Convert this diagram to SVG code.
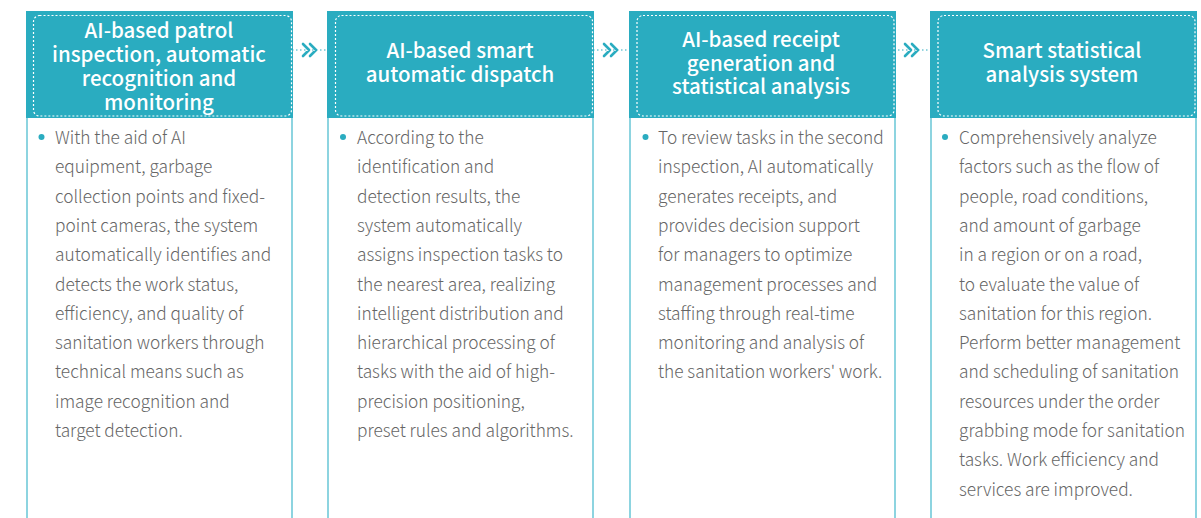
<svg xmlns="http://www.w3.org/2000/svg" width="1201" height="518" viewBox="0 0 1201 518">
<style>
.hdr{fill:#2aacc0}
.dash{fill:none;stroke:#ffffff;stroke-width:1.2;stroke-dasharray:2 2}
.side{stroke:#8dd4e0;stroke-width:2}
.title{font-family:"Noto Sans CJK SC","Source Sans Pro","Noto Sans",sans-serif;font-size:20.5px;font-weight:500;fill:#ffffff;text-anchor:middle}
.body{font-family:"Noto Sans CJK SC","Source Sans Pro","Noto Sans",sans-serif;font-size:17.3px;font-weight:300;fill:#666666}
.dot{fill:#2aacc0}
.conn{stroke:#2aacc0;stroke-width:1.2;stroke-dasharray:1.5 2.5;fill:none}
.chev{stroke:#2aacc0;stroke-width:2.6;fill:none;stroke-linecap:round;stroke-linejoin:round}
</style>
<rect width="1201" height="518" fill="#ffffff"/>
<g id="connectors">
<line class="conn" x1="292" y1="50" x2="328" y2="50"/>
<path class="chev" d="M303,44 L309,50 L303,56 M310,44 L316,50 L310,56"/>
<line class="conn" x1="593" y1="50" x2="629" y2="50"/>
<path class="chev" d="M604,44 L610,50 L604,56 M611,44 L617,50 L611,56"/>
<line class="conn" x1="894" y1="50" x2="930" y2="50"/>
<path class="chev" d="M905,44 L911,50 L905,56 M912,44 L918,50 L912,56"/>
</g>
<g id="node1">
<line class="side" x1="27" y1="118" x2="27" y2="518"/>
<line class="side" x1="292" y1="118" x2="292" y2="518"/>
<rect class="hdr" x="26" y="11" width="267" height="107"/>
<rect class="dash" x="33.5" y="15.5" width="258" height="100.5" rx="6"/>
<text class="title" x="159" y="38">AI-based patrol</text>
<text class="title" x="159" y="62">inspection, automatic</text>
<text class="title" x="159" y="86">recognition and</text>
<text class="title" x="159" y="110">monitoring</text>
<circle class="dot" cx="41.5" cy="137" r="3"/>
<text class="body" x="55" y="144">With the aid of AI</text>
<text class="body" x="55" y="173.3">equipment, garbage</text>
<text class="body" x="55" y="202.6">collection points and fixed-</text>
<text class="body" x="55" y="231.9">point cameras, the system</text>
<text class="body" x="55" y="261.2">automatically identifies and</text>
<text class="body" x="55" y="290.5">detects the work status,</text>
<text class="body" x="55" y="319.8">efficiency, and quality of</text>
<text class="body" x="55" y="349.1">sanitation workers through</text>
<text class="body" x="55" y="378.4">technical means such as</text>
<text class="body" x="55" y="407.7">image recognition and</text>
<text class="body" x="55" y="437">target detection.</text>
</g>
<g id="node2">
<line class="side" x1="328" y1="118" x2="328" y2="518"/>
<line class="side" x1="593" y1="118" x2="593" y2="518"/>
<rect class="hdr" x="327" y="11" width="267" height="107"/>
<rect class="dash" x="335.5" y="15.5" width="257" height="100.5" rx="6"/>
<text class="title" x="460" y="58">AI-based smart</text>
<text class="title" x="460" y="82">automatic dispatch</text>
<circle class="dot" cx="343" cy="137" r="3"/>
<text class="body" x="357" y="144">According to the</text>
<text class="body" x="357" y="173.3">identification and</text>
<text class="body" x="357" y="202.6">detection results, the</text>
<text class="body" x="357" y="231.9">system automatically</text>
<text class="body" x="357" y="261.2">assigns inspection tasks to</text>
<text class="body" x="357" y="290.5">the nearest area, realizing</text>
<text class="body" x="357" y="319.8">intelligent distribution and</text>
<text class="body" x="357" y="349.1">hierarchical processing of</text>
<text class="body" x="357" y="378.4">tasks with the aid of high-</text>
<text class="body" x="357" y="407.7">precision positioning,</text>
<text class="body" x="357" y="437">preset rules and algorithms.</text>
</g>
<g id="node3">
<line class="side" x1="630" y1="118" x2="630" y2="518"/>
<line class="side" x1="895" y1="118" x2="895" y2="518"/>
<rect class="hdr" x="629" y="11" width="267" height="107"/>
<rect class="dash" x="637" y="15.5" width="257" height="100.5" rx="6"/>
<text class="title" x="761" y="47">AI-based receipt</text>
<text class="title" x="761" y="70.5">generation and</text>
<text class="title" x="761" y="94">statistical analysis</text>
<circle class="dot" cx="645.5" cy="137" r="3"/>
<text class="body" x="658" y="144">To review tasks in the second</text>
<text class="body" x="658" y="173.3">inspection, AI automatically</text>
<text class="body" x="658" y="202.6">generates receipts, and</text>
<text class="body" x="658" y="231.9">provides decision support</text>
<text class="body" x="658" y="261.2">for managers to optimize</text>
<text class="body" x="658" y="290.5">management processes and</text>
<text class="body" x="658" y="319.8">staffing through real-time</text>
<text class="body" x="658" y="349.1">monitoring and analysis of</text>
<text class="body" x="658" y="378.4">the sanitation workers' work.</text>
</g>
<g id="node4">
<line class="side" x1="931" y1="118" x2="931" y2="518"/>
<line class="side" x1="1196" y1="118" x2="1196" y2="518"/>
<rect class="hdr" x="930" y="11" width="267" height="107"/>
<rect class="dash" x="938" y="15.5" width="257" height="100.5" rx="6"/>
<text class="title" x="1062" y="58">Smart statistical</text>
<text class="title" x="1062" y="82">analysis system</text>
<circle class="dot" cx="945" cy="137" r="3"/>
<text class="body" x="959" y="144">Comprehensively analyze</text>
<text class="body" x="959" y="173.3">factors such as the flow of</text>
<text class="body" x="959" y="202.6">people, road conditions,</text>
<text class="body" x="959" y="231.9">and amount of garbage</text>
<text class="body" x="959" y="261.2">in a region or on a road,</text>
<text class="body" x="959" y="290.5">to evaluate the value of</text>
<text class="body" x="959" y="319.8">sanitation for this region.</text>
<text class="body" x="959" y="349.1">Perform better management</text>
<text class="body" x="959" y="378.4">and scheduling of sanitation</text>
<text class="body" x="959" y="407.7">resources under the order</text>
<text class="body" x="959" y="437">grabbing mode for sanitation</text>
<text class="body" x="959" y="466.3">tasks. Work efficiency and</text>
<text class="body" x="959" y="495.6">services are improved.</text>
</g>
</svg>
